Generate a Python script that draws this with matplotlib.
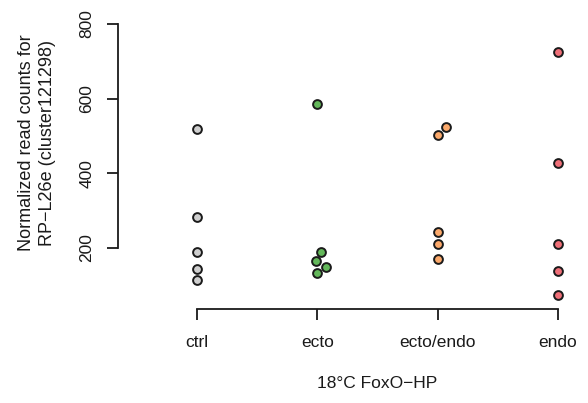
import matplotlib
matplotlib.use("Agg")
import matplotlib.pyplot as plt

plt.rcParams["font.family"] = ["Liberation Sans", "DejaVu Sans"]

# groups and values
groups = ["ctrl", "ecto", "ecto/endo", "endo"]
ctrl = [520, 284, 189, 143, 114]
ecto = [586, 190, 165, 148, 132]
ecto_endo = [523, 503, 243, 211, 170]
endo = [725, 428, 211, 139, 73]
# small horizontal jitter seen in the picture (in group units)
ctrl_jit = [0, 0, 0, 0, 0]
ecto_jit = [0, 0.03, -0.01, 0.07, 0]
ecto_endo_jit = [0.07, 0, 0, 0, 0]
endo_jit = [0, 0, 0, 0, 0]
colors = ["#cfcfcf", "#63b75a", "#fba96b", "#ef6f78"]

fig = plt.figure(figsize=(5.88, 4.03), dpi=100)
W, H = 588, 403
left, right, bottom, top = 118, 580, 309, 10
ax = fig.add_axes([left / W, 1 - bottom / H, (right - left) / W, (bottom - top) / H])

series = [(ctrl, ctrl_jit), (ecto, ecto_jit), (ecto_endo, ecto_endo_jit), (endo, endo_jit)]
for i, ((vals, jit), col) in enumerate(zip(series, colors)):
    xs = [i + 1 + j for j in jit]
    ax.scatter(xs, vals, s=40, facecolor=col, edgecolor="#1a1a1a", linewidths=1.4, zorder=3)

sx = 120.33
ax.set_xlim(1 - (197 - left) / sx, 4 + (right - 558) / sx)
sy = 224 / 600
ax.set_ylim(200 - (bottom - 248) / sy, 800 + (24 - top) / sy)

for s in ["top", "right"]:
    ax.spines[s].set_visible(False)
ax.spines["left"].set_bounds(200, 800)
ax.spines["bottom"].set_bounds(1, 4)
for s in ["left", "bottom"]:
    ax.spines[s].set_linewidth(1.3)
    ax.spines[s].set_color("#1a1a1a")

ax.set_xticks([1, 2, 3, 4])
ax.set_xticklabels(groups, fontsize=12.5)
ax.set_yticks([200, 400, 600, 800])
ax.set_yticklabels(["200", "400", "600", "800"], fontsize=12.5, rotation=90, va="center")
ax.tick_params(axis="both", length=8, width=1.3, color="#1a1a1a", labelcolor="#1a1a1a")
ax.tick_params(axis="x", pad=10.5)
ax.tick_params(axis="y", pad=9)

ax.set_xlabel("18°C FoxO\u2212HP", fontsize=12.5, color="#1a1a1a")
ax.xaxis.set_label_coords(0.56, -0.225)
ax.set_ylabel("Normalized read counts for\nRP\u2212L26e (cluster121298)", fontsize=13,
              color="#1a1a1a", linespacing=1.25)
ax.yaxis.set_label_coords(-0.135, 0.555)

fig.savefig("out.png", dpi=100)
